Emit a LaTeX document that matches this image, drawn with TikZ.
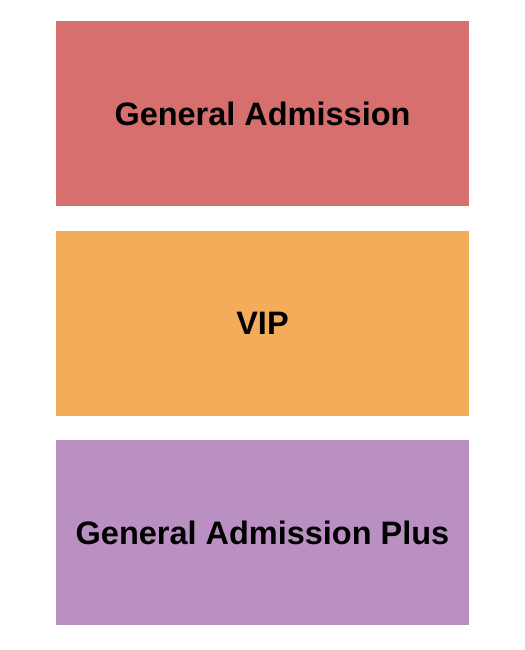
\documentclass[tikz,border=0pt]{standalone}
\usepackage{fontspec}
\setmainfont{Liberation Sans}
\usepackage{tikz}
\usetikzlibrary{positioning}
\definecolor{gacol}{HTML}{D66F6E}
\definecolor{vipcol}{HTML}{F2AC5A}
\definecolor{gapcol}{HTML}{BA8FC1}

\begin{document}
\begin{tikzpicture}
  [
    x=1bp, y=-1bp,
    node distance = 24.5bp,
    sec/.style =
      {minimum width=413bp, minimum height=185bp, inner sep=0pt, outer sep=0pt,
       font=\fontsize{32.6}{38}\selectfont\bfseries}
  ]
  \useasboundingbox (0, 0) rectangle (525, 650);

  \node [sec, fill=gacol] at (262.5, 113.5) (ga) {General Admission};
  \node [sec, fill=vipcol, below=of ga] (vip) {VIP};
  \node [sec, fill=gapcol, below=of vip] (gap) {General Admission Plus};

\end{tikzpicture}
\end{document}
